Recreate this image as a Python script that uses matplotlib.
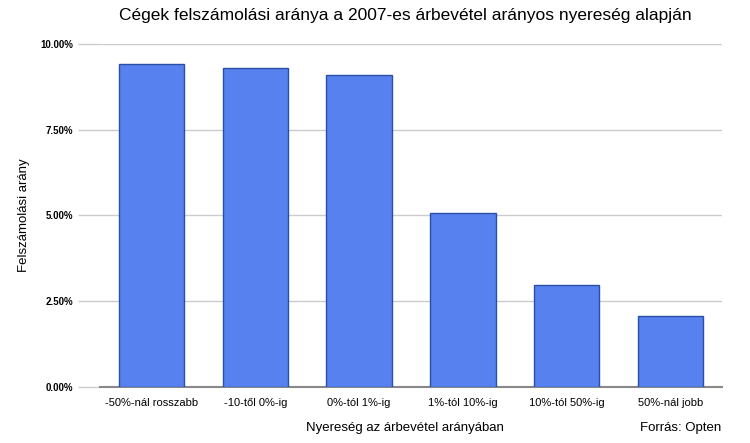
import numpy as np
import matplotlib.pyplot as plt
from matplotlib.ticker import FuncFormatter

categories = ['-50%-nál rosszabb', '-10-től 0%-ig', '0%-tól 1%-ig',
              '1%-tól 10%-ig', '10%-tól 50%-ig', '50%-nál jobb']
rates = [9.42, 9.30, 9.10, 5.07, 2.97, 2.07]
yticks = [0, 2.5, 5.0, 7.5, 10.0]

plt.rcParams['font.family'] = ['Liberation Sans', 'DejaVu Sans']

fig = plt.figure(figsize=(7.5, 4.43), dpi=100)
ax = fig.add_axes([0.133, 0.1264, 0.83, 0.7743])

x = np.arange(len(categories))
ax.bar(x, rates, width=0.63, color='#5681ee', edgecolor='#2c4fa6', linewidth=1.0, zorder=3)

ax.set_xlim(-0.5, len(categories) - 0.5)
ax.set_ylim(0, 10)
ax.set_yticks(yticks)
ax.yaxis.set_major_formatter(FuncFormatter(lambda v, p: f'{v:.2f}%'))
ax.grid(axis='y', color='#cccccc', linewidth=1.0, zorder=0)
ax.tick_params(axis='y', length=16, color='#cccccc', width=1.0, labelsize=7, pad=3)
ax.tick_params(axis='x', length=0, labelsize=8, pad=8)
ax.set_xticks(x)
ax.set_xticklabels(categories)
for lab in ax.get_yticklabels():
    lab.set_fontweight('bold')

for s in ['top', 'right', 'left']:
    ax.spines[s].set_visible(False)
ax.spines['bottom'].set_color('#888888')
ax.spines['bottom'].set_linewidth(1.5)

fig.text(0.032, 0.515, 'Felszámolási arány', rotation=90, ha='center', va='center', fontsize=9.5)
fig.text(0.54, 0.033, 'Nyereség az árbevétel arányában', ha='center', va='center', fontsize=9.5)
fig.text(0.962, 0.033, 'Forrás: Opten', ha='right', va='center', fontsize=9.5)
fig.text(0.54, 0.965, 'Cégek felszámolási aránya a 2007-es árbevétel arányos nyereség alapján',
         ha='center', va='center', fontsize=12.5)

plt.savefig('out.png', dpi=100)
